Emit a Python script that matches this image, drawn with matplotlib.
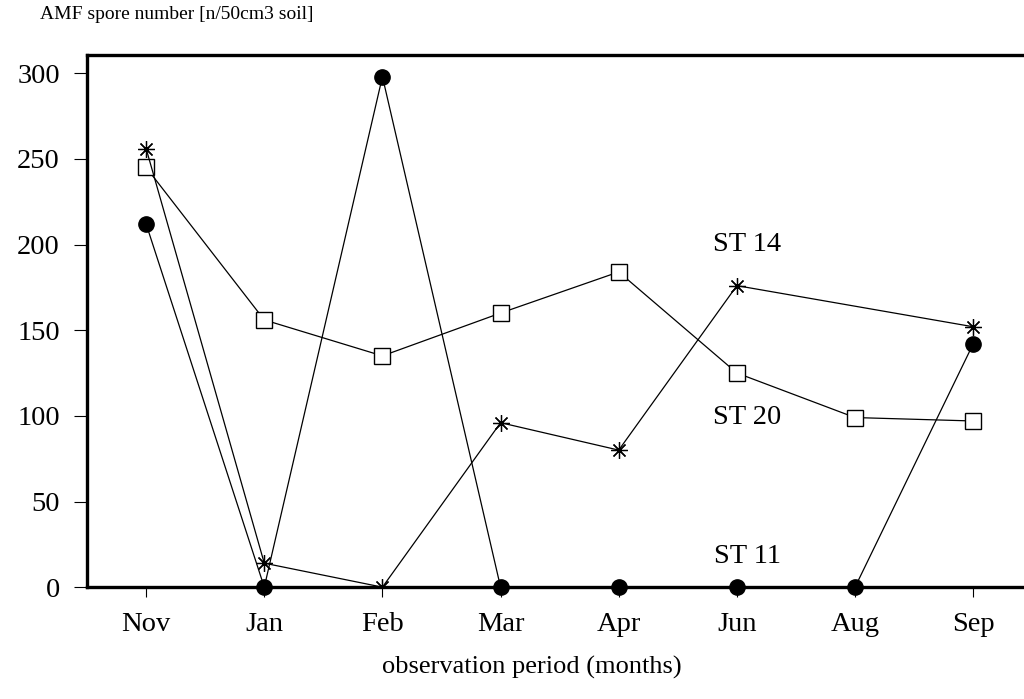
import matplotlib

matplotlib.use("Agg")
import matplotlib.pyplot as plt  # noqa: E402
import numpy as np  # noqa: E402

# values
months = ["Nov", "Jan", "Feb", "Mar", "Apr", "Jun", "Aug", "Sep"]
st11 = [212, 0, 298, 0, 0, 0, 0, 142]
st14 = [256, 14, 0, 96, 80, 176, np.nan, 152]
st20 = [245, 156, 135, 160, 184, 125, 99, 97]
yticks = [0, 50, 100, 150, 200, 250, 300]

plt.rcParams["font.family"] = ["Liberation Serif", "DejaVu Serif"]

fig = plt.figure(figsize=(10.24, 6.99), dpi=100)
ax = fig.add_axes([0.085, 0.160, 0.915, 0.761])

x = np.arange(len(months))
line_kw = dict(color="black", lw=0.9)

ax.plot(x, st20, marker="s", ms=11, mfc="white", mec="black", mew=1.0, **line_kw)
m14 = ~np.isnan(np.array(st14, dtype=float))
ax.plot(x[m14], np.array(st14)[m14], marker=(8, 2, 0), ms=12, mec="black", mew=0.9, **line_kw)
ax.plot(x, st11, marker="o", ms=11, mfc="black", mec="black", clip_on=False, zorder=5, **line_kw)

ax.text(5.09, 200, "ST 14", ha="center", va="center", fontsize=20.5)
ax.text(5.09, 99, "ST 20", ha="center", va="center", fontsize=20.5)
ax.text(5.09, 18, "ST 11", ha="center", va="center", fontsize=20.5)

ax.set_xlim(-0.5, 7.43)
ax.set_ylim(0, 310.5)
ax.set_xticks(x)
ax.set_xticklabels(months, fontsize=20.5)
ax.set_yticks(yticks)
ax.set_yticklabels([str(v) for v in yticks], fontsize=20.5)
ax.tick_params(axis="y", direction="out", length=9.5, width=0.8, pad=10)
ax.tick_params(axis="x", direction="out", length=7, width=0.8, pad=11)

for side in ("left", "top", "bottom"):
    ax.spines[side].set_linewidth(2.4)
ax.spines["right"].set_visible(False)

fig.text(40 / 1024, 1 - 19 / 699, "AMF spore number [n/50cm3 soil]",
         ha="left", va="baseline", fontsize=14)
fig.text(532 / 1024, 1 - 674 / 699, "observation period (months)",
         ha="center", va="baseline", fontsize=19)

fig.savefig("out.png", dpi=100)
